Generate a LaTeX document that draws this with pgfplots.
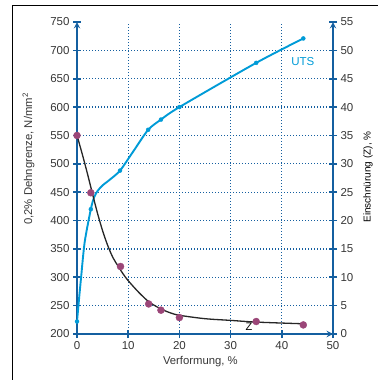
\documentclass[border=0pt]{standalone}
\usepackage{pgfplots}
\pgfplotsset{compat=1.18}
\usepackage{fontspec}
\setmainfont{Liberation Sans}
\definecolor{axblue}{RGB}{20,95,160}
\definecolor{utsblue}{RGB}{0,155,215}
\definecolor{zpurple}{RGB}{155,70,120}
\definecolor{txt}{RGB}{55,55,55}
\begin{document}
\begin{tikzpicture}
\useasboundingbox (0pt,0pt) rectangle (378pt,380pt);
\draw[black, line width=1pt] (12pt,0pt) -- (12pt,374pt) -- (378pt,374pt);
\pgfplotsset{
  common/.style={
    scale only axis, width=256pt, height=312pt,
    at={(77pt,46pt)}, anchor=south west,
    xmin=0, xmax=50,
    /pgf/number format/assume math mode=true,
    tick label style={font=\fontsize{11.5}{13}\selectfont, color=txt},
    label style={font=\fontsize{11.3}{13}\selectfont, color=txt},
    tick align=center, major tick length=8pt,
    every tick/.style={axblue, line width=1.6pt},
    axis line style={axblue, line width=1.8pt, -},
  }
}
\begin{axis}[common,
  axis x line=bottom, axis y line=left,
  ymin=200, ymax=750,
  xtick={0,10,...,50},
  ytick={200,250,...,700},
  extra y ticks={750}, extra y tick style={grid=none},
  grid=major,
  major grid style={axblue, line width=1.3pt, dash pattern=on 1.2pt off 1.8pt},
  xlabel={Verformung, \%},
  ylabel={0,2\% Dehngrenze, N/mm\textsuperscript{2}},
  xlabel style={at={(axis description cs:0.482,-0.09)}, anchor=center},
  ylabel style={at={(axis description cs:-0.189,0.561)}, anchor=center},
]
\addplot[utsblue, line width=1.9pt, smooth, tension=0.45] coordinates {
 (0,222) (0.4,262) (0.8,300) (1.5,362) (2.7,420) (3.3,440) (4,452) (5,462)
 (6.4,472) (8.4,488) (11,522) (13.9,560) (16.4,578) (20,600) (35,678) (44.2,721)};
\addplot[only marks, mark=*, mark size=2pt, utsblue] coordinates {
 (0,222) (2.7,420) (8.4,488) (13.9,560) (16.4,578) (20,600) (35,678) (44.2,721)};
\node[utsblue, font=\fontsize{11.5}{13}\selectfont] at (axis cs:44.1,681) {UTS};
\node[black, font=\fontsize{11}{13}\selectfont] at (axis cs:33.6,212) {Z};
\end{axis}
\begin{axis}[common,
  axis x line=none, axis y line=right,
  ymin=0, ymax=55,
  ytick={0,5,...,55},
  ylabel={Einschnürung (Z), \%},
  ylabel style={at={(axis description cs:1.137,0.503)}, anchor=center, rotate=0},
]
\addplot[black!85, line width=1.3pt, smooth, tension=0.5] coordinates {
 (0,35) (1,31.8) (2,28.4) (3,24.8) (4,21.3) (5,18.2) (6,15.6) (7,13.5) (8,12.0)
 (9,10.6) (10,9.4) (12,7.4) (14,5.7) (16,4.6) (18,3.8) (20,3.3) (25,2.7)
 (30,2.4) (35,2.1) (44.2,1.8)};
\addplot[only marks, mark=*, mark size=3.5pt, zpurple] coordinates {
 (0,35.0) (2.7,24.9) (8.5,11.9) (14.0,5.3) (16.4,4.2) (20,2.9) (35,2.2) (44.2,1.6)};
\end{axis}
\end{tikzpicture}
\end{document}
